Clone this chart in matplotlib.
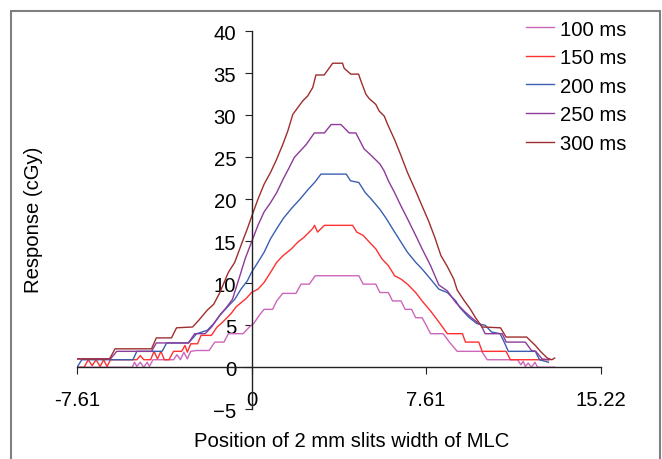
import matplotlib.pyplot as plt
from matplotlib.patches import Rectangle

plt.rcParams['font.family'] = ['Liberation Sans', 'DejaVu Sans']

# response profiles (x = position, y = response in cGy)
x100 = [-7.61, -5.2, -5.1, -5.0, -4.85, -4.7, -4.55, -4.45, -4.3, -3.4, -3.25, -3.1, -2.95, -2.8,
        -2.65, -2.4, -1.85, -1.6, -1.2, -1.01, -0.37, -0.09, 0.09, 0.37, 0.55, 0.92, 1.10, 1.36,
        1.94, 2.16, 2.52, 2.78, 4.68, 4.87, 5.42, 5.60, 5.97, 6.15, 6.52, 6.70, 6.98, 7.16, 7.44,
        7.62, 7.81, 8.36, 8.63, 8.97, 10.04, 10.28, 11.6, 11.75, 11.85, 11.94, 12.07, 12.21,
        12.36, 12.48, 12.6, 13.22]
y100 = [0.0, 0.0, 0.6, 0.1, 0.6, 0.0, 0.6, 0.1, 0.9, 0.9, 1.5, 0.9, 1.8, 1.0,
        1.9, 2.0, 2.0, 3.0, 3.0, 4.0, 4.0, 4.8, 5.2, 6.3, 6.9, 6.9, 7.9, 8.8,
        8.8, 9.9, 9.9, 10.9, 10.9, 9.9, 9.9, 8.9, 8.9, 7.9, 7.9, 6.9, 6.9, 5.9, 5.9,
        5.0, 4.0, 4.0, 3.0, 1.9, 1.9, 0.9, 0.9, 0.3, 0.7, 0.1, 0.5, 0.0,
        0.6, 0.0, 0.0, 0.0]

x150 = [-7.61, -7.3, -7.12, -6.95, -6.78, -6.6, -6.45, -6.3, -6.15, -5.0, -4.85, -4.7, -4.4,
        -4.25, -4.1, -3.95, -3.8, -3.6, -3.4, -3.05, -2.9, -2.8, -2.65, -2.35, -2.2, -1.75,
        -1.5, -1.25, -0.89, -0.67, -0.23, 0.0, 0.28, 0.55, 0.83, 1.10, 1.38, 1.74, 2.02, 2.30,
        2.66, 2.75, 2.88, 3.03, 3.18, 4.41, 4.59, 4.87, 5.14, 5.42, 5.69, 5.97, 6.24, 6.52,
        6.80, 7.16, 7.44, 7.81, 8.17, 8.54, 9.20, 9.33, 9.91, 10.06, 11.1, 11.29, 12.66, 13.0]
y150 = [0.0, 0.0, 0.9, 0.2, 0.9, 0.1, 0.9, 0.1, 0.9, 0.9, 1.4, 0.9, 0.9,
        1.9, 1.0, 1.9, 0.9, 0.9, 1.9, 1.9, 2.6, 1.8, 2.8, 2.8, 3.8, 3.8,
        4.8, 5.4, 6.4, 7.2, 8.2, 8.9, 9.3, 10.1, 11.3, 12.5, 13.3, 14.1, 14.9, 15.5,
        16.5, 16.9, 16.1, 16.5, 16.9, 16.9, 16.1, 15.7, 14.9, 14.1, 12.9, 12.1, 10.9, 10.5,
        9.9, 8.9, 7.9, 6.7, 5.4, 4.0, 4.0, 3.0, 3.0, 1.9, 1.9, 0.9, 0.9, 0.9]

x200 = [-7.61, -7.4, -5.17, -5.0, -3.9, -3.7, -2.75, -2.39, -1.93, -1.65, -1.38, -1.01, -0.73,
        -0.46, -0.18, 0.0, 0.28, 0.55, 0.83, 1.10, 1.38, 1.74, 2.11, 2.48, 2.75, 3.03, 4.13,
        4.32, 4.68, 4.96, 5.23, 5.60, 5.88, 6.15, 6.52, 6.80, 7.16, 7.44, 7.81, 8.17, 8.54,
        8.91, 9.09, 9.46, 9.83, 10.19, 10.47, 10.84, 11.02, 11.2, 12.38, 12.56, 12.95]
y200 = [0.0, 0.9, 0.9, 1.9, 1.9, 2.9, 2.9, 4.0, 4.4, 5.2, 6.2, 7.3, 8.1,
        9.3, 10.3, 11.3, 12.5, 13.7, 15.3, 16.5, 17.7, 18.9, 20.0, 21.2, 22.0, 23.0, 23.0,
        22.2, 22.0, 20.8, 20.0, 18.8, 17.7, 16.5, 14.9, 13.7, 12.5, 11.7, 10.5, 9.3, 8.9,
        7.9, 7.1, 6.0, 5.2, 5.0, 4.2, 4.0, 3.0, 1.9, 1.9, 0.9, 0.6]

x250 = [-7.61, -6.15, -5.88, -4.36, -4.15, -2.75, -2.48, -2.02, -1.74, -1.38, -1.10, -0.83,
        -0.46, -0.28, 0.0, 0.28, 0.55, 0.83, 1.10, 1.38, 1.65, 1.87, 2.38, 2.74, 3.18, 3.47,
        3.90, 4.26, 4.55, 4.91, 5.23, 5.60, 5.78, 5.97, 6.24, 6.52, 6.80, 7.16, 7.44, 7.81,
        8.17, 8.54, 8.91, 9.27, 9.64, 10.01, 10.19, 10.93, 11.11, 11.94, 12.21, 12.40, 12.67, 12.95]
y250 = [1.0, 1.0, 1.9, 1.9, 2.9, 2.9, 4.0, 4.0, 4.8, 6.2, 7.1, 8.1,
        11.3, 12.9, 14.9, 16.9, 18.5, 19.6, 20.8, 22.4, 23.8, 25.0, 26.5, 27.9, 27.9, 28.9,
        28.9, 27.9, 27.9, 26.0, 25.2, 24.2, 23.4, 22.2, 20.8, 19.2, 17.7, 15.7, 14.1, 12.1,
        9.8, 9.1, 7.7, 6.7, 5.8, 5.0, 4.0, 4.0, 3.0, 3.0, 2.0, 1.9, 1.0, 0.9]

x300 = [-7.61, -6.19, -5.95, -4.36, -4.15, -3.49, -3.27, -2.57, -2.30, -1.93, -1.65, -1.38,
        -1.01, -0.73, -0.46, -0.18, 0.0, 0.28, 0.55, 0.83, 1.07, 1.36, 1.58, 1.80, 2.23, 2.45,
        2.67, 2.81, 3.17, 3.25, 3.54, 3.97, 4.04, 4.33, 4.67, 4.77, 4.99, 5.13, 5.42, 5.57,
        5.79, 5.94, 6.24, 6.52, 6.80, 7.16, 7.44, 7.71, 7.99, 8.26, 8.54, 8.82, 8.97, 9.26,
        9.55, 9.77, 10.06, 10.86, 11.1, 12.0, 12.38, 12.6, 12.9, 13.1, 13.22]
y300 = [1.0, 1.0, 2.2, 2.2, 3.5, 3.5, 4.7, 4.8, 5.6, 6.8, 7.5, 8.9,
        11.3, 12.5, 14.5, 16.5, 17.9, 20.0, 21.8, 23.2, 24.6, 26.5, 28.1, 30.1, 31.7, 32.3,
        33.3, 34.8, 34.8, 35.1, 36.2, 36.2, 35.6, 34.9, 34.9, 34.1, 32.5, 32.0, 31.3, 30.5,
        29.9, 28.9, 27.1, 25.2, 23.2, 21.0, 19.2, 17.5, 15.5, 13.3, 12.0, 10.5, 9.2, 8.0,
        6.9, 5.9, 4.8, 4.7, 3.6, 3.6, 2.6, 1.9, 1.1, 0.9, 1.1]

labels = ['100 ms', '150 ms', '200 ms', '250 ms', '300 ms']
colors = ['#CC66BB', '#FF3030', '#3A5FB0', '#8E3A9A', '#9E2E2E']
xs = [x100, x150, x200, x250, x300]
ys = [y100, y150, y200, y250, y300]

x_ticks = [-7.61, 0, 7.61, 15.22]
x_ticklabels = ['-7.61', '0', '7.61', '15.22']
y_ticks = [-5, 0, 5, 10, 15, 20, 25, 30, 35, 40]

fs = 14.6

fig = plt.figure(figsize=(6.62, 4.6), dpi=100)
ax = fig.add_axes([77 / 662, 1 - 410.3 / 460, 523.5 / 662, 378 / 460])

for x, y, c, lab in zip(xs, ys, colors, labels):
    ax.plot(x, y, color=c, lw=1.0, label=lab)

ax.set_xlim(-7.61, 15.22)
ax.set_ylim(-5, 40)
ax.spines['left'].set_position(('data', 0))
ax.spines['bottom'].set_position(('data', 0))
ax.spines['top'].set_visible(False)
ax.spines['right'].set_visible(False)
for s in ['left', 'bottom']:
    ax.spines[s].set_linewidth(1.0)
    ax.spines[s].set_color('#222222')

ax.set_xticks(x_ticks)
ax.set_xticklabels(x_ticklabels)
ax.set_yticks(y_ticks)
ax.tick_params(axis='x', direction='out', length=5, pad=11, labelsize=fs, color='#222222')
ax.tick_params(axis='y', direction='out', length=5, pad=6, labelsize=fs, color='#222222')

fig.text(352 / 662, 1 - 442 / 460, 'Position of 2 mm slits width of MLC',
         ha='center', va='center', fontsize=fs)
fig.text(34 / 662, 1 - 220 / 460, 'Response (cGy)', rotation=90,
         ha='center', va='center', fontsize=fs)

ax.legend(loc='upper left', bbox_to_anchor=(526 / 662, 1 - 20.5 / 460),
          bbox_transform=fig.transFigure, frameon=False, fontsize=fs,
          handlelength=1.4, handletextpad=0.3, labelspacing=0.47,
          borderpad=0, borderaxespad=0)

fig.patches.append(Rectangle((10.5 / 662, -0.1), 649 / 662, 1.1 - 11.5 / 460,
                             transform=fig.transFigure, fill=False,
                             edgecolor='#7f7f7f', lw=1.5))

fig.savefig('out.png', dpi=100)
